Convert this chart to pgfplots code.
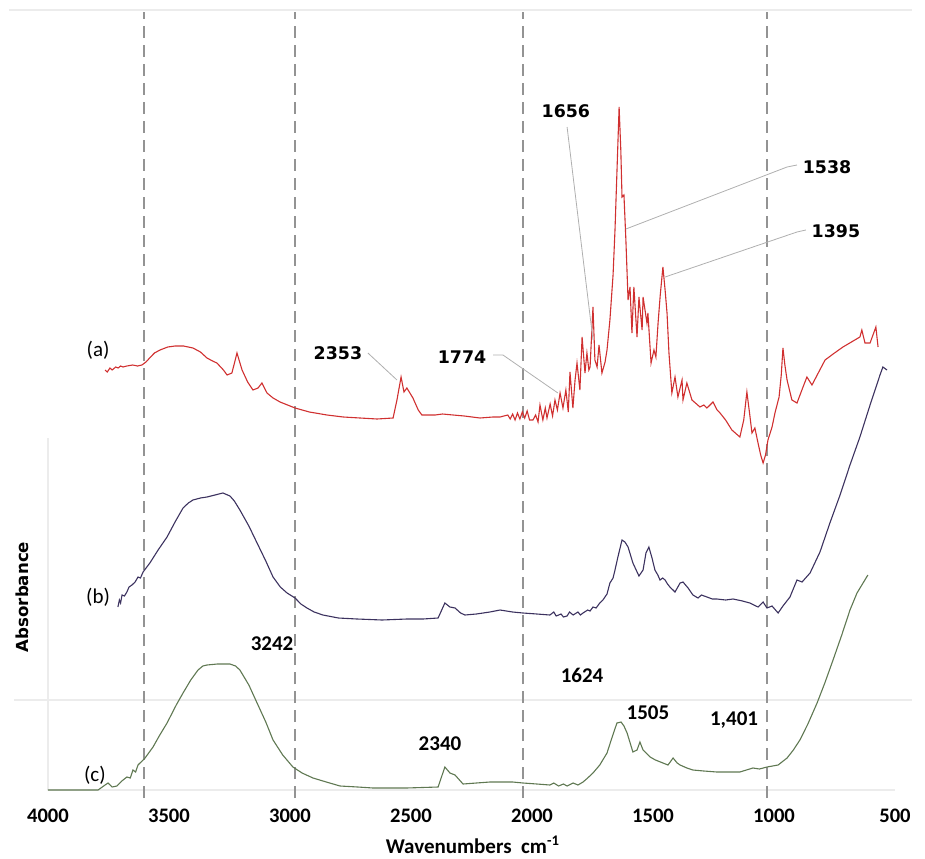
\documentclass[border=0pt]{standalone}
\usepackage{fontspec}
\setmainfont{Carlito}
\newfontfamily\dejavu{DejaVu Sans}
\usepackage{pgfplots}
\pgfplotsset{compat=1.18}
\definecolor{acol}{RGB}{208,48,48}
\definecolor{bcol}{RGB}{60,50,95}
\definecolor{ccol}{RGB}{95,120,82}
\definecolor{faint}{RGB}{236,236,236}
\definecolor{leader}{RGB}{175,175,175}
\begin{document}
\begin{tikzpicture}
\path[use as bounding box] (0,0) rectangle (462.5pt,429pt);
\begin{axis}[
  at={(24pt,34pt)}, anchor=south west,
  scale only axis, width=423.5pt, height=390pt,
  xmin=500, xmax=4000, x dir=reverse,
  ymin=0, ymax=780,
  axis y line=none,
  axis x line*=bottom,
  x axis line style={draw=faint, line width=0.8pt, -},
  xtick={500,1000,...,4000},
  xtick style={draw=none},
  ytick=\empty,
  xticklabel style={font=\fontsize{10.3}{12}\selectfont\bfseries, yshift=-6pt},
  /pgf/number format/assume math mode=true,
  /pgf/number format/1000 sep={},
  clip=false,
]
% faint frame lines
\draw[faint, line width=0.6pt] (axis cs:4160,780) -- (axis cs:430,780);
\draw[faint, line width=0.6pt] (axis cs:4140,90) -- (axis cs:430,90);
\draw[faint, line width=0.6pt] (axis cs:4000,0) -- (axis cs:4000,352);
% dashed reference lines
\foreach \w in {3603,2979,2037,1029}{
  \edef\tmp{\noexpand\draw[gray!85, line width=0.7pt, dash pattern=on 6pt off 3.5pt] (axis cs:\w,-8) -- (axis cs:\w,778);}
  \tmp
}
% curve (a)
\addplot[acol, line width=0.55pt] coordinates {
(3764,420) (3755,418) (3744,422) (3735,420) (3720,423) (3710,422) (3700,424) (3690,423) (3674,424) (3650,425) (3630,424) (3612,425)
(3595,428) (3580,432) (3560,437) (3537,440) (3505,443) (3475,444) (3440,444) (3401,442) (3370,438) (3343,432) (3320,429) (3302,427)
(3275,420) (3260,415) (3240,417) (3219,437) (3208,428) (3198,420) (3175,408)
(3153,400) (3132,402) (3116,407) (3095,397) (3070,392) (3041,388) (3010,385) (2979,382) (2920,378) (2847,375) (2780,373) (2711,372) (2640,371) (2574,372)
(2558,390) (2541,413) (2529,398) (2517,402) (2492,392) (2470,380) (2455,375) (2400,375) (2370,376) (2326,375) (2280,374) (2215,372) (2161,373) (2132,373)
(2100,375) (2090,371) (2080,376) (2070,370) (2060,377) (2050,371) (2040,378) (2030,372) (2020,379) (2010,370) (1996,370)
(1985,375) (1975,368) (1967,385) (1955,370) (1945,382) (1938,372) (1925,386) (1915,374) (1905,390) (1895,380)
(1884,397) (1872,382) (1860,400) (1850,378) (1843,418) (1831,382) (1822,410) (1814,427) (1802,400) (1793,453)
(1781,417) (1773,437) (1765,420) (1760,423) (1748,483) (1740,430) (1731,423) (1723,445) (1711,417) (1698,428)
(1690,440) (1678,470) (1665,515) (1657,560) (1648,625) (1640,683) (1633,640) (1628,593) (1620,595) (1612,550) (1603,490) (1595,503)
(1587,457) (1579,503) (1566,453) (1558,493) (1545,460) (1541,493) (1525,467) (1521,477) (1508,427) (1496,440)
(1488,433) (1479,467) (1470,495) (1459,523) (1450,500) (1442,477) (1434,437) (1422,397) (1409,413) (1397,393) (1380,410) (1376,390)
(1360,407) (1339,390) (1320,386) (1306,383) (1290,385) (1277,382) (1252,388) (1235,380) (1223,377) (1200,370) (1174,360) (1141,353) (1125,370) (1112,398) (1100,375) (1091,357)
(1079,362) (1066,347) (1055,335) (1045,327) (1035,335) (1025,350) (1008,363) (996,377) (979,393) (970,415) (963,442) (955,425) (946,410) (926,390)
(905,387) (880,403) (864,413) (843,405) (815,418) (789,430) (750,437) (715,443) (680,448) (645,453) (637,460) (624,447) (603,447) (579,463) (570,443)
};
% curve (b)
\addplot[bcol, line width=0.55pt] coordinates {
(3711,183) (3705,190) (3700,187) (3694,195) (3684,194) (3674,198) (3665,203) (3653,205) (3640,208) (3628,213) (3618,212) (3607,218) (3579,227)
(3545,240) (3508,253) (3475,268) (3442,282) (3420,287) (3401,290) (3370,292) (3343,293) (3310,295) (3277,297) (3248,294) (3230,289) (3207,280)
(3170,264) (3136,247) (3100,229) (3070,213) (3040,203) (3012,197)
(2979,192) (2955,186) (2930,182) (2900,178) (2864,175) (2800,172) (2723,171) (2620,170) (2517,171) (2450,171) (2388,172) (2360,187) (2339,183) (2318,182) (2295,177) (2277,175)
(2230,176) (2174,178) (2132,180) (2080,178) (2037,177) (1980,176) (1926,175) (1910,178) (1900,174) (1880,176) (1870,173) (1855,174) (1845,178) (1830,175) (1810,178) (1800,175) (1789,177) (1770,180)
(1760,179) (1748,183) (1735,182) (1720,187) (1707,190) (1690,196) (1678,207) (1665,212) (1657,220) (1645,233) (1628,250) (1616,248) (1603,243) (1583,227)
(1558,214) (1541,220) (1529,237) (1517,243) (1504,232) (1492,220) (1480,215) (1471,210) (1460,212) (1450,210) (1440,206) (1430,203)
(1409,198) (1388,207) (1376,208) (1355,202) (1335,195) (1314,192) (1300,195) (1277,193) (1255,191) (1236,191) (1200,190) (1169,191) (1130,189) (1100,187)
(1066,183) (1045,188) (1029,182) (1008,184) (983,177) (963,184) (934,193) (905,210) (884,208) (851,217)
(810,238) (769,267) (727,295) (686,325) (645,353) (603,385) (562,415) (550,423) (533,420)
};
% curve (c)
\addplot[ccol, line width=0.55pt] coordinates {
(4000,0) (3909,0) (3793,0) (3770,4) (3752,7) (3735,3) (3715,4) (3695,9) (3674,13) (3660,12) (3649,20) (3638,18) (3628,25)
(3599,32) (3566,43) (3538,55) (3508,67) (3470,85) (3442,97) (3410,110) (3380,120) (3360,124) (3343,125) (3300,126) (3248,126) (3225,124) (3207,120) (3170,105)
(3136,87) (3100,68) (3070,50) (3030,35) (2988,23) (2950,17) (2905,12) (2850,8) (2793,4) (2720,3) (2657,2) (2520,2) (2388,3) (2360,23) (2339,17) (2318,15) (2285,6)
(2230,7) (2174,8) (2132,8) (2080,8) (2037,7) (1980,6) (1926,5) (1910,7) (1890,4) (1870,6) (1855,4) (1830,7) (1810,5) (1789,8) (1770,12) (1748,17) (1720,25) (1690,37) (1670,52) (1649,67) (1632,68) (1620,64) (1607,57) (1583,38) (1566,40)
(1554,48) (1541,40) (1512,33) (1490,30) (1459,27) (1438,25) (1417,32) (1400,27) (1388,25) (1360,22) (1335,20) (1290,19) (1236,18) (1190,18) (1141,18)
(1087,22) (1060,21) (1029,23) (983,25) (946,32) (920,40) (893,50) (860,66) (822,87) (790,107) (756,130) (720,155) (686,180) (657,197) (632,207) (612,215)
};
% leaders
\draw[leader, line width=0.4pt] (axis cs:2678,437) -- (axis cs:2558,410);
\draw[leader, line width=0.4pt] (axis cs:2161,435) -- (axis cs:2120,435) -- (axis cs:1893,397);
\draw[leader, line width=0.4pt] (axis cs:1855,663) -- (axis cs:1748,450);
\draw[leader, line width=0.4pt] (axis cs:905,625) -- (axis cs:946,623) -- (axis cs:1612,561);
\draw[leader, line width=0.4pt] (axis cs:868,560) -- (axis cs:905,558) -- (axis cs:1450,513);
% labels
\node[font=\fontsize{10.5}{12}\selectfont] at (axis cs:3793,440) {(a)};
\node[font=\fontsize{10.5}{12}\selectfont] at (axis cs:3793,193) {(b)};
\node[font=\fontsize{10.5}{12}\selectfont] at (axis cs:3806,15) {(c)};
\node[font=\dejavu\bfseries\fontsize{8.7}{10}\selectfont] at (axis cs:2802,437) {2353};
\node[font=\dejavu\bfseries\fontsize{8.7}{10}\selectfont] at (axis cs:2289,433) {1774};
\node[font=\dejavu\bfseries\fontsize{8.7}{10}\selectfont] at (axis cs:1860,679) {1656};
\node[font=\dejavu\bfseries\fontsize{8.7}{10}\selectfont] at (axis cs:781,623) {1538};
\node[font=\dejavu\bfseries\fontsize{8.7}{10}\selectfont] at (axis cs:744,559) {1395};
\node[font=\fontsize{10.5}{12}\selectfont\bfseries] at (axis cs:3074,146) {3242};
\node[font=\fontsize{10.5}{12}\selectfont\bfseries] at (axis cs:1793,115) {1624};
\node[font=\fontsize{10.5}{12}\selectfont\bfseries] at (axis cs:1521,77) {1505};
\node[font=\fontsize{10.5}{12}\selectfont\bfseries] at (axis cs:1165,70) {1,401};
\node[font=\fontsize{10.5}{12}\selectfont\bfseries] at (axis cs:2380,46) {2340};
% axis titles
\node[font=\fontsize{10.5}{12}\selectfont\bfseries, inner sep=0pt, anchor=base] at (axis cs:2244,-63) {Wavenumbers\ \ cm\textsuperscript{-1}};
\node[rotate=90, font=\dejavu\bfseries\fontsize{8.3}{10}\selectfont] at (axis cs:4107,193) {Absorbance};
\end{axis}
\end{tikzpicture}
\end{document}
